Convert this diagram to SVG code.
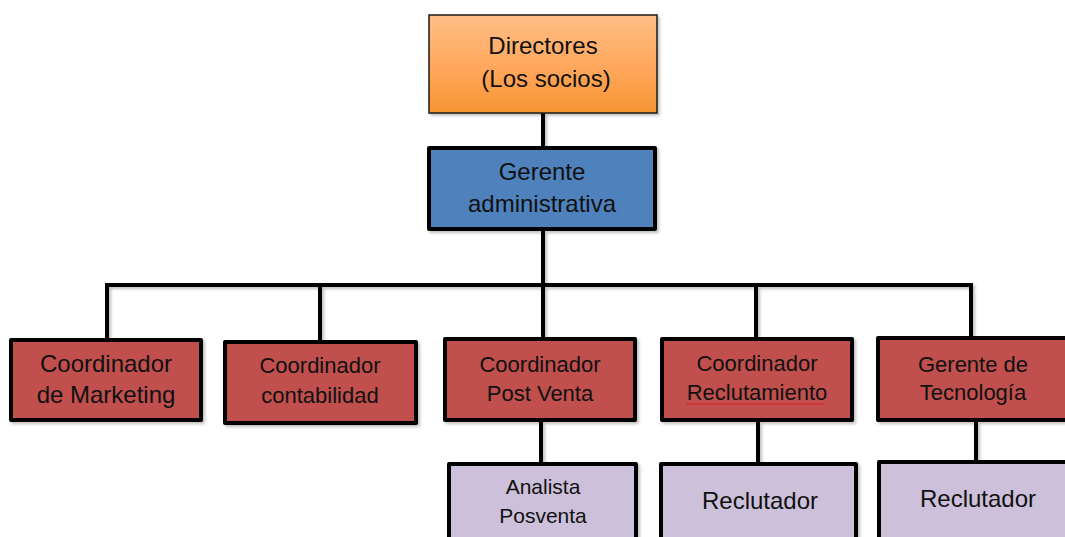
<svg xmlns="http://www.w3.org/2000/svg" width="1065" height="537" viewBox="0 0 1065 537">
  <defs>
    <linearGradient id="orangeFill" x1="0" y1="0" x2="0" y2="1">
      <stop offset="0" stop-color="#FFBE86"/>
      <stop offset="0.5" stop-color="#FFA95F"/>
      <stop offset="1" stop-color="#F79433"/>
    </linearGradient>
    <filter id="shadow" filterUnits="userSpaceOnUse" x="0" y="0" width="1065" height="537">
      <feDropShadow dx="2" dy="2" stdDeviation="1.5" flood-color="#000" flood-opacity="0.25"/>
    </filter>
  </defs>
  <style>
    .box { stroke: #000; stroke-width: 4; stroke-linejoin: round; filter: url(#shadow); }
    .top { fill: url(#orangeFill); stroke: #1a1a1a; stroke-width: 1.5; filter: url(#shadow); }
    .blue { fill: #4F81BD; }
    .red { fill: #C0504D; }
    .lilac { fill: #CCC0DA; }
    .lbl { font-family: "Liberation Sans", Arial, sans-serif; fill: #111; text-anchor: middle; }
    .f24 { font-size: 24px; }
    .f22 { font-size: 22px; }
    .f21 { font-size: 21px; }
    #connectors { filter: url(#shadow); }
    .wire { fill: none; stroke: #000; stroke-width: 4; stroke-linejoin: miter; }
  </style>
  <rect width="1065" height="537" fill="#fff"/>

  <g id="connectors">
    <path class="wire" d="M543,113 V148"/>
    <path class="wire" d="M543,231 V285"/>
    <path class="wire" d="M107,340 V285 H971 V338"/>
    <path class="wire" d="M320,285 V342"/>
    <path class="wire" d="M543,285 V339"/>
    <path class="wire" d="M756,285 V339"/>
    <path class="wire" d="M541,422 V464"/>
    <path class="wire" d="M758,422 V464"/>
    <path class="wire" d="M976,422 V462"/>
  </g>

  <g id="directores">
    <rect class="top" x="429" y="15" width="228" height="98"/>
    <text class="lbl f24" x="543" y="54">Directores</text>
    <text class="lbl f24" x="546" y="87">(Los socios)</text>
  </g>

  <g id="gerente-administrativa">
    <rect class="box blue" x="429" y="148" width="226" height="81"/>
    <text class="lbl f24" x="542" y="180">Gerente</text>
    <text class="lbl f24" x="542" y="212">administrativa</text>
  </g>

  <g id="coord-marketing">
    <rect class="box red" x="11" y="340" width="190" height="80"/>
    <text class="lbl f24" x="106" y="372">Coordinador</text>
    <text class="lbl f24" x="106" y="403">de Marketing</text>
  </g>

  <g id="coord-contabilidad">
    <rect class="box red" x="225" y="342" width="191" height="81"/>
    <text class="lbl f22" x="320" y="373">Coordinador</text>
    <text class="lbl f22" x="320" y="403">contabilidad</text>
  </g>

  <g id="coord-postventa">
    <rect class="box red" x="445" y="339" width="190" height="81"/>
    <text class="lbl f22" x="540" y="372">Coordinador</text>
    <text class="lbl f22" x="540" y="401">Post Venta</text>
  </g>

  <g id="coord-reclutamiento">
    <rect class="box red" x="662" y="339" width="190" height="81"/>
    <text class="lbl f22" x="757" y="371">Coordinador</text>
    <text class="lbl f22" x="757" y="400">Reclutamiento</text>
    <!-- spell-check squiggle under the second line -->
    <path d="M686,405 l2,-2 l2,2 l2,-2 l2,2 l2,-2 l2,2 l2,-2 l2,2 l2,-2 l2,2 l2,-2 l2,2 l2,-2 l2,2 l2,-2 l2,2 l2,-2 l2,2 l2,-2 l2,2 l2,-2 l2,2 l2,-2 l2,2 l2,-2 l2,2 l2,-2 l2,2 l2,-2 l2,2 l2,-2 l2,2 l2,-2 l2,2 l2,-2 l2,2 l2,-2 l2,2 l2,-2 l2,2 l2,-2 l2,2 l2,-2 l2,2 l2,-2 l2,2 l2,-2 l2,2 l2,-2 l2,2 l2,-2 l2,2 l2,-2 l2,2 l2,-2 l2,2 l2,-2 l2,2 l2,-2 l2,2 l2,-2 l2,2 l2,-2 l2,2 l2,-2 l2,2 l2,-2 l2,2 l2,-2" fill="none" stroke="#E02020" stroke-width="1"/>
  </g>

  <g id="gerente-tecnologia">
    <rect class="box red" x="878" y="338" width="200" height="82"/>
    <text class="lbl f22" x="973" y="372">Gerente de</text>
    <text class="lbl f22" x="973" y="400">Tecnología</text>
  </g>

  <g id="analista-posventa">
    <rect class="box lilac" x="449" y="464" width="187" height="100"/>
    <text class="lbl f21" x="543" y="494">Analista</text>
    <text class="lbl f21" x="543" y="523">Posventa</text>
  </g>

  <g id="reclutador-1">
    <rect class="box lilac" x="661" y="464" width="195" height="100"/>
    <text class="lbl f24" x="760" y="509">Reclutador</text>
  </g>

  <g id="reclutador-2">
    <rect class="box lilac" x="879" y="462" width="200" height="100"/>
    <text class="lbl f24" x="978" y="507">Reclutador</text>
  </g>
</svg>
